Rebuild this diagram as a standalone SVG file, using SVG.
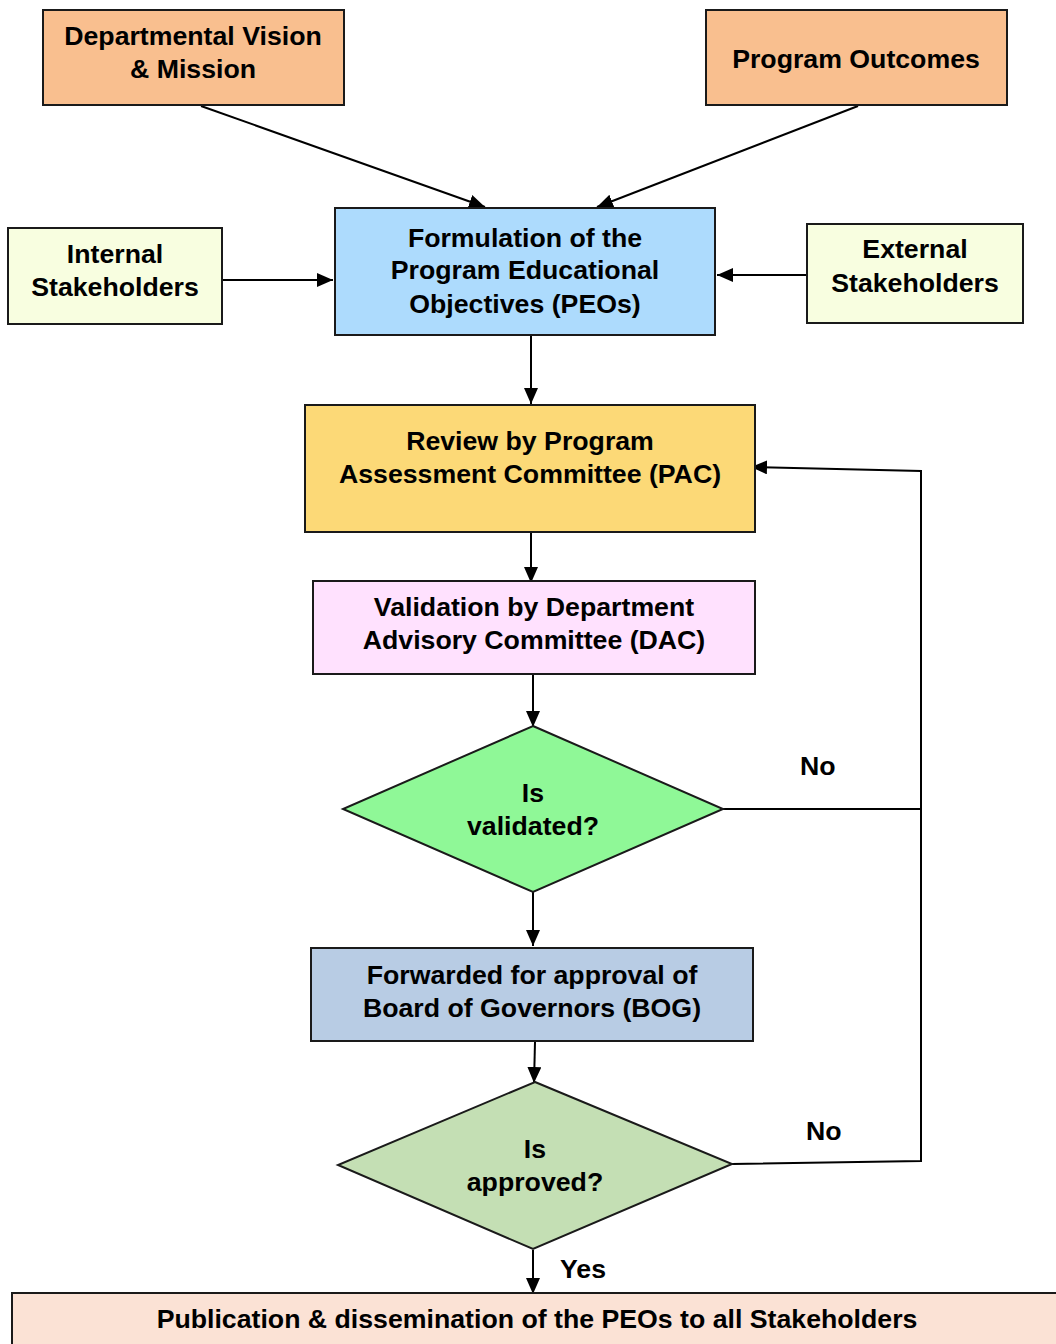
<svg xmlns="http://www.w3.org/2000/svg" width="1056" height="1344" viewBox="0 0 1056 1344">
  <style>
    .box { stroke: #1a1a1a; stroke-width: 2; }
    .lbl { font-family: "Liberation Sans", Arial, sans-serif; font-weight: bold; font-size: 26.7px; fill: #000; text-anchor: middle; }
    .tag { font-family: "Liberation Sans", Arial, sans-serif; font-weight: bold; font-size: 26.7px; fill: #000; }
    .wire { fill: none; stroke: #000; stroke-width: 2; }
  </style>
  <defs>
    <marker id="arrow" markerUnits="userSpaceOnUse" markerWidth="18" markerHeight="16" refX="16" refY="7" orient="auto">
      <path d="M0,0 L16,7 L0,14 Z" fill="#000"/>
    </marker>
  </defs>
  <rect width="1056" height="1344" fill="#fff"/>

  <!-- connectors -->
  <g id="connectors">
    <line class="wire" x1="201" y1="106" x2="485" y2="207" marker-end="url(#arrow)"/>
    <line class="wire" x1="858" y1="106" x2="597" y2="207" marker-end="url(#arrow)"/>
    <line class="wire" x1="222" y1="280" x2="333" y2="280" marker-end="url(#arrow)"/>
    <line class="wire" x1="807" y1="275" x2="717" y2="275" marker-end="url(#arrow)"/>
    <line class="wire" x1="531" y1="336" x2="531" y2="404" marker-end="url(#arrow)"/>
    <line class="wire" x1="531" y1="533" x2="531" y2="583" marker-end="url(#arrow)"/>
    <line class="wire" x1="533" y1="675" x2="533" y2="727" marker-end="url(#arrow)"/>
    <line class="wire" x1="533" y1="892" x2="533" y2="946" marker-end="url(#arrow)"/>
    <line class="wire" x1="535" y1="1042" x2="534" y2="1083" marker-end="url(#arrow)"/>
    <line class="wire" x1="533" y1="1250" x2="533" y2="1294" marker-end="url(#arrow)"/>
    <!-- rejection loop back to PAC review -->
    <polyline class="wire" points="723,809 921,809"/>
    <polyline class="wire" points="732,1164 921,1161 921,471 751,467" marker-end="url(#arrow)"/>
  </g>

  <g id="node-vision">
    <rect class="box" x="43" y="10" width="301" height="95" fill="#F9BF8F"/>
    <text class="lbl" x="193" y="45">Departmental Vision</text>
    <text class="lbl" x="193" y="78">&amp; Mission</text>
  </g>

  <g id="node-outcomes">
    <rect class="box" x="706" y="10" width="301" height="95" fill="#F9BF8F"/>
    <text class="lbl" x="856" y="68">Program Outcomes</text>
  </g>

  <g id="node-internal">
    <rect class="box" x="8" y="228" width="214" height="96" fill="#F8FEE0"/>
    <text class="lbl" x="115" y="263">Internal</text>
    <text class="lbl" x="115" y="296">Stakeholders</text>
  </g>

  <g id="node-formulation">
    <rect class="box" x="335" y="208" width="380" height="127" fill="#ADDBFD"/>
    <text class="lbl" x="525" y="247">Formulation of the</text>
    <text class="lbl" x="525" y="279">Program Educational</text>
    <text class="lbl" x="525" y="313">Objectives (PEOs)</text>
  </g>

  <g id="node-external">
    <rect class="box" x="807" y="224" width="216" height="99" fill="#F8FEE0"/>
    <text class="lbl" x="915" y="258">External</text>
    <text class="lbl" x="915" y="292">Stakeholders</text>
  </g>

  <g id="node-review">
    <rect class="box" x="305" y="405" width="450" height="127" fill="#FCD977"/>
    <text class="lbl" x="530" y="450">Review by Program</text>
    <text class="lbl" x="530" y="483">Assessment Committee (PAC)</text>
  </g>

  <g id="node-validation">
    <rect class="box" x="313" y="581" width="442" height="93" fill="#FFE1FE"/>
    <text class="lbl" x="534" y="616">Validation by Department</text>
    <text class="lbl" x="534" y="649">Advisory Committee (DAC)</text>
  </g>

  <g id="node-validated">
    <polygon class="box" points="533,726 723,809 533,892 343,809" fill="#8FF897"/>
    <text class="lbl" x="533" y="802">Is</text>
    <text class="lbl" x="533" y="835">validated?</text>
  </g>

  <g id="node-bog">
    <rect class="box" x="311" y="948" width="442" height="93" fill="#B8CCE4"/>
    <text class="lbl" x="532" y="984">Forwarded for approval of</text>
    <text class="lbl" x="532" y="1017">Board of Governors (BOG)</text>
  </g>

  <g id="node-approved">
    <polygon class="box" points="535,1082 732,1164 533,1249 338,1165" fill="#C4DFB4"/>
    <text class="lbl" x="535" y="1158">Is</text>
    <text class="lbl" x="535" y="1191">approved?</text>
  </g>

  <g id="node-publication">
    <rect class="box" x="12" y="1293" width="1060" height="70" fill="#FBE2D5"/>
    <text class="lbl" x="537" y="1328">Publication &amp; dissemination of the PEOs to all Stakeholders</text>
  </g>

  <g id="labels">
    <text class="tag" x="800" y="775">No</text>
    <text class="tag" x="806" y="1140">No</text>
    <text class="tag" x="560" y="1278">Yes</text>
  </g>
</svg>
